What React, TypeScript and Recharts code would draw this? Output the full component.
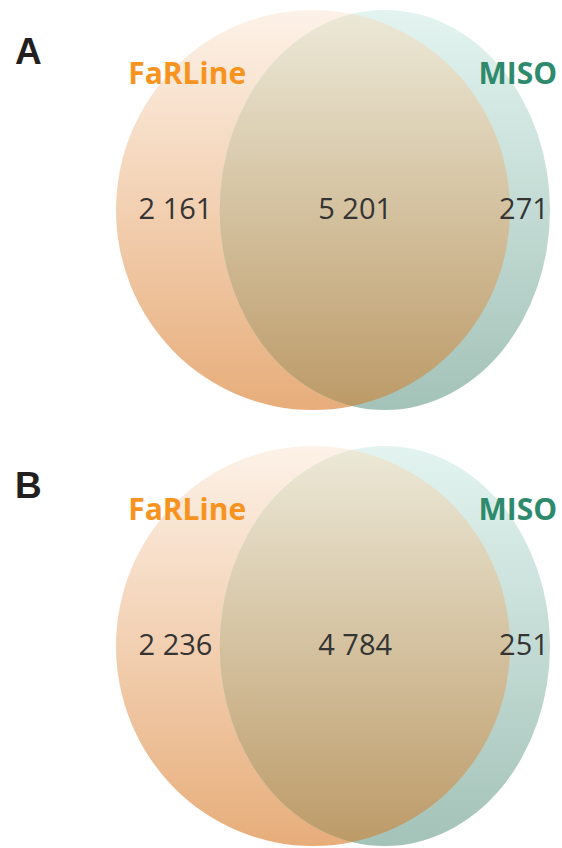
import React from "react";
import { ScatterChart, Scatter, XAxis, YAxis, ReferenceArea } from "recharts";

// two panels, same two sets
const panels = ["A", "B"];
const setNames = ["FaRLine", "MISO"];
const farlineOnly = [2161, 2236];
const overlap = [5201, 4784];
const misoOnly = [271, 251];

// diagram layout in plot units: x 0..1 (left to right), y -1..1 (bottom to top)
const farlineSpan = [0, 0.908];
const misoSpan = [0.239, 1];
const countX = [0.137, 0.551, 0.94];
const countY = -0.045;
const nameX = [0.164, 0.926];
const nameY = 0.63;

const nameColors = ["#f7931e", "#2e8a6c"];
const farlineGrad = ["#fdf2e8", "#e7ad7a"];
const misoGrad = ["#e3f4f0", "#a3c2b8"];
const overlapGrad = ["#ece9d8", "#bc9a67"];

const W = 562;
const H = 424;
const margins = [
  { top: 10, right: 12, bottom: 14, left: 116 },
  { top: 22, right: 12, bottom: 2, left: 116 },
];
const letterBaseline = [64, 74];

const fmt = (n: number) => String(n).replace(/\B(?=(\d{3})+(?!\d))/g, " ");

const ellipseShape =
  (gradId: string, colors: string[], opts: { clipId?: string; defineClip?: string } = {}) =>
  (p: any) => {
    const rx = p.width / 2;
    const ry = p.height / 2;
    const cx = p.x + rx;
    const cy = p.y + ry;
    return (
      <g>
        <defs>
          <linearGradient id={gradId} x1="0" y1="0" x2="0" y2="1">
            <stop offset="0%" stopColor={colors[0]} />
            <stop offset="100%" stopColor={colors[1]} />
          </linearGradient>
          {opts.defineClip && (
            <clipPath id={opts.defineClip}>
              <ellipse cx={cx} cy={cy} rx={rx} ry={ry} />
            </clipPath>
          )}
        </defs>
        <ellipse
          cx={cx}
          cy={cy}
          rx={rx}
          ry={ry}
          fill={`url(#${gradId})`}
          clipPath={opts.clipId ? `url(#${opts.clipId})` : undefined}
        />
      </g>
    );
  };

function VennPanel({ index }: { index: number }) {
  const id = panels[index];
  const counts = [farlineOnly[index], overlap[index], misoOnly[index]];
  const countRows = counts.map((v, i) => ({ x: countX[i], y: countY, value: v }));
  const nameRows = setNames.map((n, i) => ({ x: nameX[i], y: nameY, name: n, color: nameColors[i] }));

  return (
    <div style={{ position: "relative", width: W, height: H }}>
      <ScatterChart width={W} height={H} margin={margins[index]}>
        <XAxis type="number" dataKey="x" domain={[0, 1]} hide />
        <YAxis type="number" dataKey="y" domain={[-1, 1]} hide />
        <ReferenceArea
          x1={farlineSpan[0]}
          x2={farlineSpan[1]}
          y1={-1}
          y2={1}
          shape={ellipseShape(`far-${id}`, farlineGrad, { defineClip: `clip-${id}` })}
        />
        <ReferenceArea
          x1={misoSpan[0]}
          x2={misoSpan[1]}
          y1={-1}
          y2={1}
          shape={ellipseShape(`miso-${id}`, misoGrad)}
        />
        <ReferenceArea
          x1={misoSpan[0]}
          x2={misoSpan[1]}
          y1={-1}
          y2={1}
          shape={ellipseShape(`both-${id}`, overlapGrad, { clipId: `clip-${id}` })}
        />
        <Scatter
          data={countRows}
          isAnimationActive={false}
          shape={(p: any) => (
            <text
              x={p.cx}
              y={p.cy}
              textAnchor="middle"
              fontFamily="'Open Sans', sans-serif"
              fontSize={29}
              fill="#343434"
            >
              {fmt(p.payload.value)}
            </text>
          )}
        />
        <Scatter
          data={nameRows}
          isAnimationActive={false}
          shape={(p: any) => (
            <text
              x={p.cx}
              y={p.cy}
              textAnchor="middle"
              fontFamily="'Open Sans', sans-serif"
              fontWeight={700}
              fontSize={30}
              fill={p.payload.color}
            >
              {p.payload.name}
            </text>
          )}
        />
      </ScatterChart>
      <svg width={60} height={100} style={{ position: "absolute", left: 0, top: 0 }}>
        <text
          x={15}
          y={letterBaseline[index]}
          fontFamily="'Liberation Sans', Arial, sans-serif"
          fontWeight={700}
          fontSize={37}
          fill="#231f20"
        >
          {id}
        </text>
      </svg>
    </div>
  );
}

export default function App() {
  return (
    <div style={{ position: "absolute", left: 0, top: 0, width: W, height: 2 * H, background: "#fff" }}>
      {panels.map((_, i) => (
        <VennPanel key={i} index={i} />
      ))}
    </div>
  );
}
